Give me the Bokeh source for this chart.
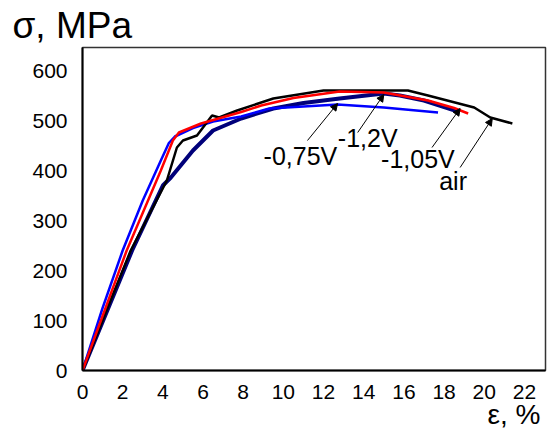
from bokeh.plotting import figure
from bokeh.models import Range1d, Label, Arrow, NormalHead, FixedTicker, Title
from bokeh.embed import file_html
from bokeh.resources import INLINE

# Data (strain %, stress MPa)
blue_x = [0, 1, 2, 3, 3.9, 4.3, 4.6, 5.5, 6.5, 7.9, 9.3, 11, 12.7, 15, 17.7]
blue_y = [0, 125, 240, 340, 420, 455, 468, 485, 498, 508, 524, 528, 532, 526, 516]

red_x = [0, 2.2, 3.9, 4.5, 4.8, 5.9, 7.9, 8.9, 10.5, 12.8, 15, 17.2, 18.5, 19.2]
red_y = [0, 240, 400, 460, 476, 494, 517, 530, 545, 558, 556, 540, 525, 514]

black_x = [0, 2.4, 4.2, 4.7, 5.0, 5.7, 6.0, 6.45, 6.8, 7.7, 9.5, 12, 16.2, 17.2, 19.5, 20.3, 21.4]
black_y = [0, 240, 380, 446, 460, 470, 486, 510, 506, 520, 544, 560, 560, 550, 526, 506, 494]

navy_x = [0, 2.47, 4.0, 4.4, 5.5, 6.5, 7.9, 9.5, 11, 12.8, 15, 15.8, 17, 18.7]
navy_y = [0, 240, 370, 386, 440, 480, 504, 524, 535, 544, 554, 550, 540, 518]

x_ticks = [0, 2, 4, 6, 8, 10, 12, 14, 16, 18, 20, 22]
y_ticks = [0, 100, 200, 300, 400, 500, 600]

labels = ["-0,75V", "-1,2V", "-1,05V", "air"]
label_x = [10.85, 14.2, 16.7, 18.45]
label_y = [430, 466, 424, 380]
arrow_start_x = [11.2, 13.7, 17.4, 18.8]
arrow_start_y = [460, 476, 446, 406]
arrow_end_x = [12.7, 15.0, 18.8, 20.4]
arrow_end_y = [534, 552, 524, 504]

p = figure(width=554, height=430, output_backend="svg", toolbar_location=None,
           x_range=Range1d(0, 23.05), y_range=Range1d(0, 646),
           min_border_left=82, min_border_right=9, min_border_top=47, min_border_bottom=60)

p.xgrid.visible = False
p.ygrid.visible = False
p.outline_line_color = "#333333"
p.outline_line_width = 1.5
p.background_fill_color = "white"
p.border_fill_color = "white"

for ax in (p.xaxis[0], p.yaxis[0]):
    ax.major_tick_line_color = None
    ax.minor_tick_line_color = None
    ax.axis_line_color = "black"
    ax.axis_line_width = 2
    ax.major_label_text_font = "Liberation Sans"
    ax.major_label_text_font_size = "21px"
    ax.major_label_text_color = "black"
    ax.major_label_standoff = 9

p.xaxis.major_label_standoff = 8
p.xaxis.ticker = FixedTicker(ticks=x_ticks)
p.yaxis.ticker = FixedTicker(ticks=y_ticks)

p.line(navy_x, navy_y, line_color="#00007a", line_width=4)
p.line(blue_x, blue_y, line_color="#0000ff", line_width=2.5)
p.line(black_x, black_y, line_color="black", line_width=2.5)
p.line(red_x, red_y, line_color="#ff0000", line_width=2.5)

for i in range(len(labels)):
    p.add_layout(Arrow(end=NormalHead(size=7, line_color="black", fill_color="black", line_width=1),
                       x_start=arrow_start_x[i], y_start=arrow_start_y[i],
                       x_end=arrow_end_x[i], y_end=arrow_end_y[i],
                       line_color="black", line_width=1))
    p.add_layout(Label(x=label_x[i], y=label_y[i], text=labels[i],
                       text_font="Liberation Sans", text_font_size="25px",
                       text_align="center", text_baseline="middle", text_color="black"))

# Axis titles
p.add_layout(Title(text="σ, MPa", align="left", offset=-70, standoff=4,
                   text_font="Liberation Sans", text_font_size="37px",
                   text_font_style="normal", text_color="black"), "above")
p.add_layout(Title(text="ε, %", align="right", offset=5, standoff=-9,
                   text_font="Liberation Sans", text_font_size="28px",
                   text_font_style="normal", text_color="black"), "below")

open("out.html", "w").write(file_html(p, INLINE))
